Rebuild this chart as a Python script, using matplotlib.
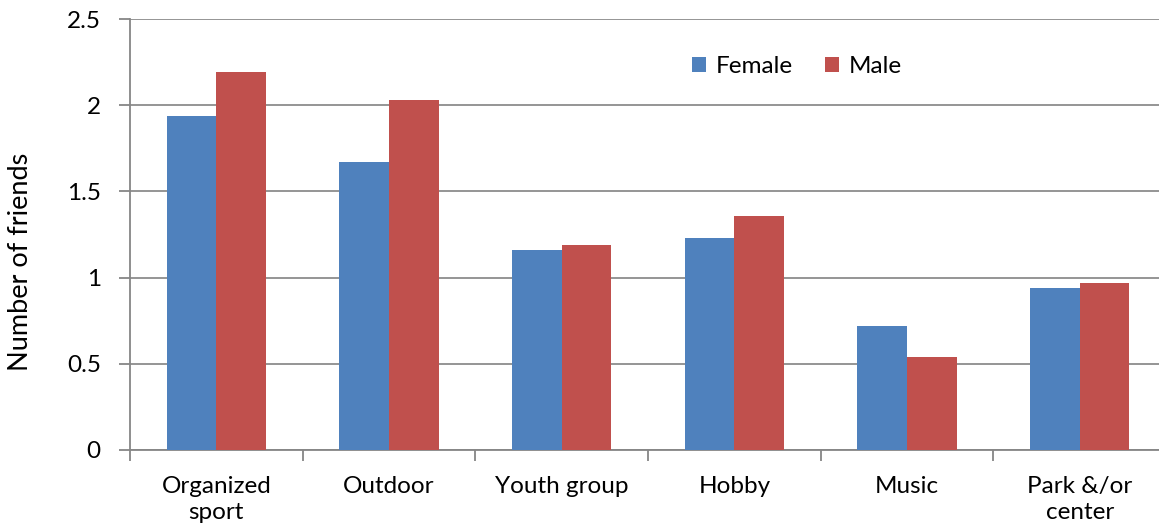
import numpy as np
import matplotlib
matplotlib.use("Agg")
import matplotlib.pyplot as plt

categories = ["Organized\nsport", "Outdoor", "Youth group", "Hobby", "Music", "Park &/or\ncenter"]
female = [1.94, 1.67, 1.16, 1.23, 0.72, 0.94]
male = [2.19, 2.03, 1.19, 1.36, 0.54, 0.97]
yticks = [0, 0.5, 1, 1.5, 2, 2.5]
ytick_labels = ["0", "0.5", "1", "1.5", "2", "2.5"]

plt.rcParams["font.family"] = ["Lato", "DejaVu Sans"]

W, H = 1159, 531
fig = plt.figure(figsize=(W / 100, H / 100), dpi=100)
# plot area runs past the right edge of the figure
ax = fig.add_axes([130 / W, 1 - 450 / H, 1036 / W, 431 / H])

x = np.arange(len(categories))
bw = 0.287
ax.bar(x - bw / 2, female, bw, color="#4F81BD", label="Female", zorder=3)
ax.bar(x + bw / 2, male, bw, color="#C0504D", label="Male", zorder=3)

ax.set_xlim(-0.5, len(categories) - 0.5)
ax.set_ylim(0, 2.5)
ax.set_yticks(yticks)
ax.set_yticklabels(ytick_labels)
ax.yaxis.grid(True, color="#8C8C8C", linewidth=1.3)
ax.set_axisbelow(True)

# category labels sit between the boundary ticks
ax.set_xticks(np.arange(len(categories) + 1) - 0.5)
ax.set_xticklabels([])
ax.set_xticks(x, minor=True)
ax.set_xticklabels(categories, minor=True, fontsize=17.5, linespacing=1.3)
ax.tick_params(axis="x", which="minor", length=0, pad=19)
ax.tick_params(axis="x", which="major", length=8, width=1.3, color="#868686")
ax.tick_params(axis="y", length=8, width=1.3, color="#868686", pad=13, labelsize=17.5)

for s in ["top", "right"]:
    ax.spines[s].set_visible(False)
for s in ["left", "bottom"]:
    ax.spines[s].set_color("#868686")
    ax.spines[s].set_linewidth(1.3)

ax.set_ylabel("Number of friends", fontsize=19.5)
ax.yaxis.set_label_coords(-97 / 1036, 1 - (262 - 19) / 431)

ax.legend(loc="upper left", bbox_to_anchor=(540 / 1036, 0.965), ncol=2, frameon=False,
          fontsize=17.5, handlelength=0.6, handleheight=0.6, handletextpad=0.4,
          columnspacing=1.3)

fig.savefig("out.png", dpi=100)
